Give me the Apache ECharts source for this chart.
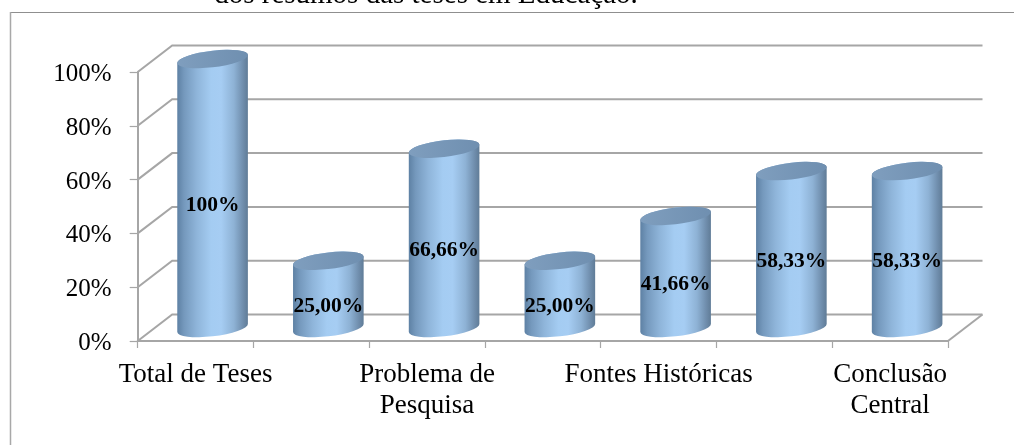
<!DOCTYPE html>
<html>
<head>
<meta charset="utf-8">
<style>
  html, body { margin: 0; padding: 0; background: #fff; }
  #chart { width: 1014px; height: 445px; }
</style>
<script src="https://cdn.jsdelivr.net/npm/echarts@6/dist/echarts.min.js"></script>
</head>
<body>
<div id="chart"></div>
<script>
const categories = ["Total de Teses", "", "Problema de\nPesquisa", "", "Fontes Históricas", "", "Conclusão\nCentral"];
const values = [100, 25, 66.66, 25, 41.66, 58.33, 58.33];
const valueLabels = ["100%", "25,00%", "66,66%", "25,00%", "41,66%", "58,33%", "58,33%"];
const yTicks = [0, 20, 40, 60, 80, 100];

const FONT = '"Liberation Serif", "Times New Roman", serif';
const GRID_COLOR = "#a6a6a6";
// depth of the fake 3d box, and where the cylinders sit inside it
const DEPTH_X = 34.5;
const DEPTH_Y = -26.5;
const BAR_DX = 17;
const BAR_DY = -13;
// tilted ellipse of the cylinder ends
const RX = 35.5;
const RY = 8.3;
const ROT = -6.8;
const EDGE_X = 35.3;
const EDGE_Y = 4;

function renderWall(params, api) {
  const p = api.coord([0, api.value(0)]);
  const left = params.coordSys.x;
  const right = left + params.coordSys.width;
  const style = { stroke: GRID_COLOR, lineWidth: 2, fill: null };
  const d = `M${left} ${p[1]}L${left + DEPTH_X} ${p[1] + DEPTH_Y}L${right + DEPTH_X} ${p[1] + DEPTH_Y}`;
  const children = [{ type: "path", shape: { pathData: d }, style }];
  if (api.value(0) === 0) {
    children.push({
      type: "line",
      shape: { x1: right, y1: p[1], x2: right + DEPTH_X, y2: p[1] + DEPTH_Y },
      style,
    });
  }
  return { type: "group", children };
}

function renderBar(params, api) {
  const idx = api.value(0);
  const top = api.coord([idx, api.value(1)]);
  const base = api.coord([idx, 0]);
  const mid = api.coord([idx, api.value(1) / 2]);
  const cx = top[0] + BAR_DX;
  const ty = top[1] + BAR_DY;
  const by = base[1] + BAR_DY;
  const arc = `A${RX} ${RY} ${ROT} 0 0`;
  const body =
    `M${cx - EDGE_X} ${ty + EDGE_Y}L${cx - EDGE_X} ${by + EDGE_Y}` +
    `${arc} ${cx + EDGE_X} ${by - EDGE_Y}L${cx + EDGE_X} ${ty - EDGE_Y}` +
    `${arc} ${cx - EDGE_X} ${ty + EDGE_Y}Z`;
  const cap =
    `M${cx - EDGE_X} ${ty + EDGE_Y}${arc} ${cx + EDGE_X} ${ty - EDGE_Y}` +
    `${arc} ${cx - EDGE_X} ${ty + EDGE_Y}Z`;
  return {
    type: "group",
    children: [
      {
        type: "path",
        shape: { pathData: body },
        style: {
          fill: new echarts.graphic.LinearGradient(0, 0, 1, 0, [
            { offset: 0, color: "#5d80a3" },
            { offset: 0.1, color: "#7599bd" },
            { offset: 0.28, color: "#8fb5da" },
            { offset: 0.48, color: "#a4ccf2" },
            { offset: 0.62, color: "#a6cdf3" },
            { offset: 0.8, color: "#8eb2d5" },
            { offset: 0.93, color: "#6f8dac" },
            { offset: 1, color: "#5f7b96" },
          ]),
        },
      },
      {
        type: "path",
        shape: { pathData: cap },
        style: {
          fill: new echarts.graphic.LinearGradient(0, 0, 1, 0, [
            { offset: 0, color: "#7f9ebe" },
            { offset: 1, color: "#6f8fb0" },
          ]),
        },
      },
      {
        type: "text",
        z2: 10,
        style: {
          x: cx,
          y: mid[1] - 1,
          text: valueLabels[idx],
          align: "center",
          verticalAlign: "middle",
          font: `bold 21.5px ${FONT}`,
          fill: "#000",
        },
      },
    ],
  };
}

const chart = echarts.init(document.getElementById("chart"));
chart.setOption({
  animation: false,
  backgroundColor: "#fff",
  graphic: [
    {
      type: "line",
      shape: { x1: 10, y1: 12.5, x2: 1014, y2: 12.5 },
      style: { stroke: "#8f8f8f", lineWidth: 1 },
    },
    {
      type: "line",
      shape: { x1: 10.5, y1: 12, x2: 10.5, y2: 445 },
      style: { stroke: "#a8a8a8", lineWidth: 1.5 },
    },
    {
      type: "text",
      style: {
        x: 426,
        y: 10,
        text: "dos resumos das teses em Educação.",
        align: "center",
        verticalAlign: "bottom",
        font: `29px ${FONT}`,
        fill: "#000",
      },
    },
  ],
  grid: { left: 137.7, right: 66, top: 72, height: 269, containLabel: false },
  xAxis: {
    type: "category",
    data: categories,
    axisLine: { lineStyle: { color: GRID_COLOR, width: 2 } },
    axisTick: { show: true, length: 7, interval: 0, lineStyle: { color: GRID_COLOR, width: 1.2 } },
    axisLabel: {
      interval: 0,
      margin: 18,
      color: "#000",
      fontFamily: FONT,
      fontSize: 27,
      lineHeight: 31,
      hideOverlap: false,
    },
  },
  yAxis: {
    type: "value",
    min: 0,
    max: 100,
    interval: 20,
    axisLine: { show: true, lineStyle: { color: GRID_COLOR, width: 2 } },
    axisTick: { show: true, length: 8, lineStyle: { color: GRID_COLOR, width: 1.2 } },
    axisLabel: {
      formatter: "{value}%",
      margin: 26,
      verticalAlign: "top",
      lineHeight: 5,
      color: "#000",
      fontFamily: FONT,
      fontSize: 25,
    },
    splitLine: { show: false },
  },
  series: [
    {
      type: "custom",
      coordinateSystem: "cartesian2d",
      renderItem: renderWall,
      data: yTicks.map((t) => [t]),
      encode: { y: 0 },
      silent: true,
      clip: false,
      z: 1,
    },
    {
      type: "custom",
      coordinateSystem: "cartesian2d",
      renderItem: renderBar,
      data: values.map((v, i) => [i, v]),
      encode: { x: 0, y: 1 },
      silent: true,
      clip: false,
      z: 5,
    },
  ],
});
</script>
</body>
</html>
